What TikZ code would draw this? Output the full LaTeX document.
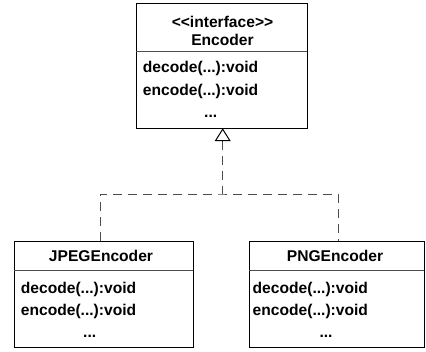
\documentclass[tikz,border=0pt]{standalone}
\usepackage{fontspec}
\setmainfont{Liberation Sans}[Ligatures=TeXOff]
\begin{document}
\begin{tikzpicture}[x=1pt,y=-1pt,
  box/.style={draw=black, line width=1pt, fill=white, inner sep=0pt, anchor=north west},
  divider/.style={draw=black!70, line width=1pt},
  txt/.style={inner sep=0pt, font=\fontsize{15.6}{18}\selectfont\bfseries},
  lefttxt/.style={txt, anchor=base west},
  midtxt/.style={txt, anchor=base},
  realize/.style={draw=black!70, line width=1pt, dash pattern=on 9pt off 6pt},
  tri/.style={draw=black, line width=1pt, fill=white, line join=miter}
]
\useasboundingbox (0,0) rectangle (426,351);

% Encoder interface
\node[box, minimum width=171pt, minimum height=125pt] (enc) at (136.3,2.7) {};
\coordinate (encdivL) at (136.3,51.7);
\coordinate (encdivR) at (307.3,51.7);
\draw[divider] (encdivL) -- (encdivR);
\node[midtxt] (encst) at (222.5,27.5) {<<interface>>};
\node[midtxt] (encnm) at (222.5,45.5) {Encoder};
\node[lefttxt] (encm1) at (142.7,72.5) {decode(...):void};
\node[lefttxt] (encm2) at (142.7,95) {encode(...):void};
\node[midtxt] (encm3) at (210.7,117) {...};

% JPEGEncoder
\node[box, minimum width=178.4pt, minimum height=106pt] (jpeg) at (14.3,241) {};
\coordinate (jpdivL) at (14.3,270.7);
\coordinate (jpdivR) at (192.7,270.7);
\draw[divider] (jpdivL) -- (jpdivR);
\node[midtxt] (jpnm) at (101,261.5) {JPEGEncoder};
\node[lefttxt] (jpm1) at (20.7,293) {decode(...):void};
\node[lefttxt] (jpm2) at (20.7,315.5) {encode(...):void};
\node[midtxt] (jpm3) at (89.7,337.5) {...};

% PNGEncoder
\node[box, minimum width=174.7pt, minimum height=106pt] (png) at (249.3,241) {};
\coordinate (pndivL) at (249.3,270.7);
\coordinate (pndivR) at (424,270.7);
\draw[divider] (pndivL) -- (pndivR);
\node[midtxt] (pnnm) at (335,261.5) {PNGEncoder};
\node[lefttxt] (pnm1) at (252.5,293) {decode(...):void};
\node[lefttxt] (pnm2) at (252.5,315.5) {encode(...):void};
\node[midtxt] (pnm3) at (326,337.5) {...};

% realization connector
\coordinate (tapex) at (222.7,129.2);
\coordinate (tbase) at (222.7,140.7);
\coordinate (split) at (222.7,194);
\coordinate (jtop) at (100,241);
\coordinate (ptop) at (338,241);
\draw[realize] (tbase) -- (split);
\draw[realize] (jtop) |- (split) -| (ptop);
\draw[tri] (tapex) -- ++(7.2,11.5) -- ++(-14.4,0) -- cycle;
\end{tikzpicture}
\end{document}
